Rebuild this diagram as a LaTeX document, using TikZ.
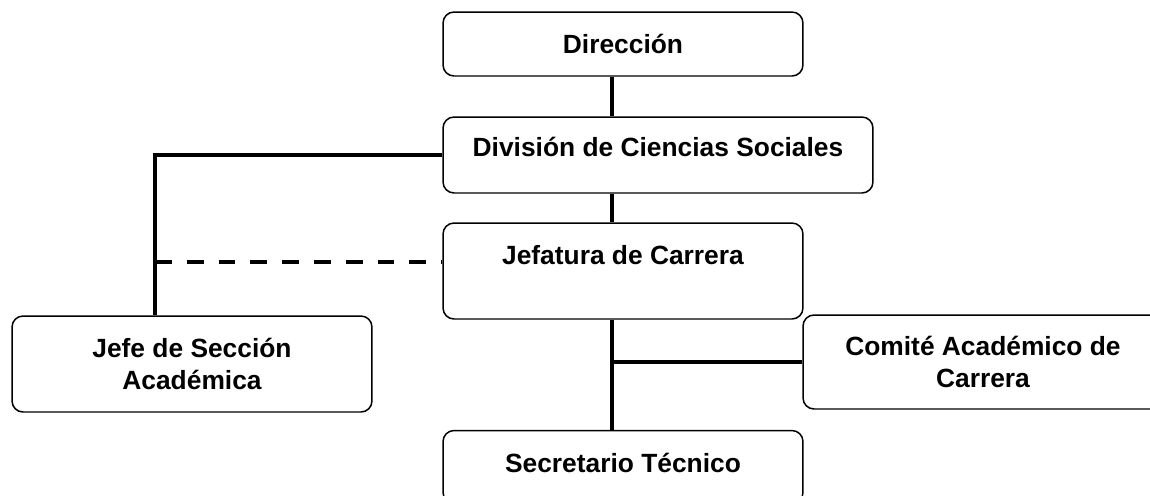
\documentclass[tikz,border=0pt]{standalone}
\usepackage{fontspec}
\setmainfont{Liberation Sans}
\tikzset{box/.style = {rectangle, rounded corners=2.2mm, draw, line width=0.85pt,
                       align=center, inner sep=0pt, font=\bfseries\fontsize{15}{18}\selectfont},
         con/.style = {line width=2.7pt},
         dsh/.style = {line width=2.7pt, dash pattern=on 9.6pt off 8.5pt}}
\begin{document}
\begin{tikzpicture}[x=0.02cm, y=-0.02cm]
    \useasboundingbox (0,0) rectangle (1150,495);
    \node[box, minimum width=7.20cm, minimum height=1.28cm] (dir) at (623,44) {Dirección};
    \node[box, minimum width=8.60cm, minimum height=1.52cm] (div) at (658,155) {División de Ciencias Sociales\\[-9pt] \mbox{}};
    \node[box, minimum width=7.20cm, minimum height=1.92cm] (jef) at (623,271) {Jefatura de Carrera\\ \mbox{}};
    \node[box, minimum width=7.20cm, minimum height=1.46cm] (sec) at (623,467) {Secretario Técnico\\[-13.5pt] \mbox{}};
    \node[box, minimum width=7.20cm, minimum height=1.92cm] (jsa) at (192,364) {Jefe de Sección\\ Académica};
    \node[box, minimum width=7.20cm, minimum height=1.88cm] (com) at (983,362) {Comité Académico de\\ Carrera};
    \coordinate (lft) at (155,262);
    \coordinate (rgt) at (612,362);
    \draw[con] (dir.south -| rgt) -- (div.north -| rgt);
    \draw[con] (div.south -| rgt) -- (jef.north -| rgt);
    \draw[con] (div.west) -| (lft) -- (lft |- jsa.north);
    \draw[dsh] (lft) -- (jef.west |- lft);
    \draw[con] (jef.south -| rgt) -- (sec.north -| rgt);
    \draw[con] (rgt) -- (com.west |- rgt);
\end{tikzpicture}
\end{document}
